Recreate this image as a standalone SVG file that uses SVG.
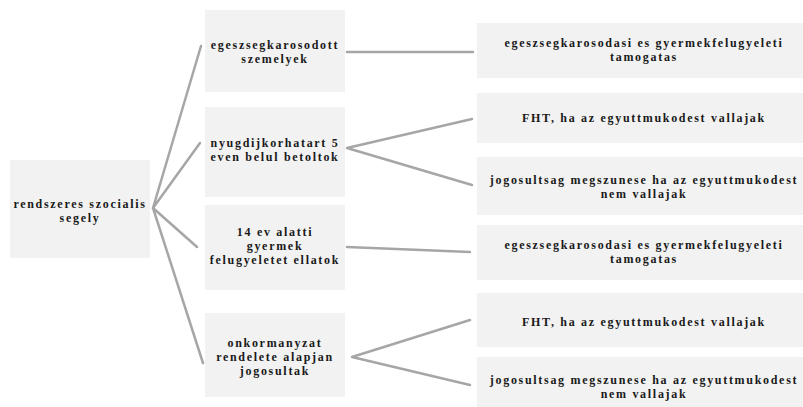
<svg xmlns="http://www.w3.org/2000/svg" width="803" height="407" viewBox="0 0 803 407">
<style>
.box{fill:#f2f2f2;}
.t{font-family:"Liberation Serif","DejaVu Serif","Noto Serif",serif;font-weight:bold;font-size:12px;letter-spacing:1.7px;fill:#1a1a1a;text-anchor:middle;}
.c{fill:none;stroke:#a6a6a6;stroke-width:2.5;stroke-linecap:round;stroke-linejoin:round;}
</style>
<rect width="803" height="407" fill="#ffffff"/>
<g id="connectors">
<polyline class="c" points="201,46 153,208 200,143"/>
<polyline class="c" points="197,247 153,208 203,363"/>
<line class="c" x1="347" y1="52" x2="473" y2="52"/>
<polyline class="c" points="472,119 347,148 472,185"/>
<line class="c" x1="347" y1="247" x2="470" y2="252"/>
<polyline class="c" points="470,320 352,357 470,385"/>
</g>
<g id="root">
<rect class="box" x="10" y="160" width="140" height="98"/>
<text class="t" x="80" y="208">rendszeres szocialis</text>
<text class="t" x="80" y="222">segely</text>
</g>
<g id="n1">
<rect class="box" x="205" y="10" width="140" height="82"/>
<text class="t" x="275" y="49">egeszsegkarosodott</text>
<text class="t" x="275" y="63">szemelyek</text>
</g>
<g id="n2">
<rect class="box" x="205" y="107" width="140" height="90"/>
<text class="t" x="275" y="147">nyugdijkorhatart 5</text>
<text class="t" x="275" y="161">even belul betoltok</text>
</g>
<g id="n3">
<rect class="box" x="205" y="205" width="140" height="85"/>
<text class="t" x="275" y="236">14 ev alatti</text>
<text class="t" x="275" y="250">gyermek</text>
<text class="t" x="275" y="264">felugyeletet ellatok</text>
</g>
<g id="n4">
<rect class="box" x="205" y="313" width="140" height="84"/>
<text class="t" x="275" y="347">onkormanyzat</text>
<text class="t" x="275" y="361">rendelete alapjan</text>
<text class="t" x="275" y="375">jogosultak</text>
</g>
<g id="n1a">
<rect class="box" x="477" y="23" width="334" height="55"/>
<text class="t" x="644" y="47">egeszsegkarosodasi es gyermekfelugyeleti</text>
<text class="t" x="644" y="61">tamogatas</text>
</g>
<g id="n2a">
<rect class="box" x="477" y="93" width="334" height="50"/>
<text class="t" x="644" y="122">FHT, ha az egyuttmukodest vallajak</text>
</g>
<g id="n2b">
<rect class="box" x="477" y="157" width="334" height="58"/>
<text class="t" x="644" y="184">jogosultsag megszunese ha az egyuttmukodest</text>
<text class="t" x="644" y="198">nem vallajak</text>
</g>
<g id="n3a">
<rect class="box" x="477" y="225" width="334" height="55"/>
<text class="t" x="644" y="249">egeszsegkarosodasi es gyermekfelugyeleti</text>
<text class="t" x="644" y="263">tamogatas</text>
</g>
<g id="n4a">
<rect class="box" x="477" y="293" width="334" height="54"/>
<text class="t" x="644" y="326">FHT, ha az egyuttmukodest vallajak</text>
</g>
<g id="n4b">
<rect class="box" x="477" y="357" width="334" height="60"/>
<text class="t" x="644" y="384">jogosultsag megszunese ha az egyuttmukodest</text>
<text class="t" x="644" y="398">nem vallajak</text>
</g>
</svg>
